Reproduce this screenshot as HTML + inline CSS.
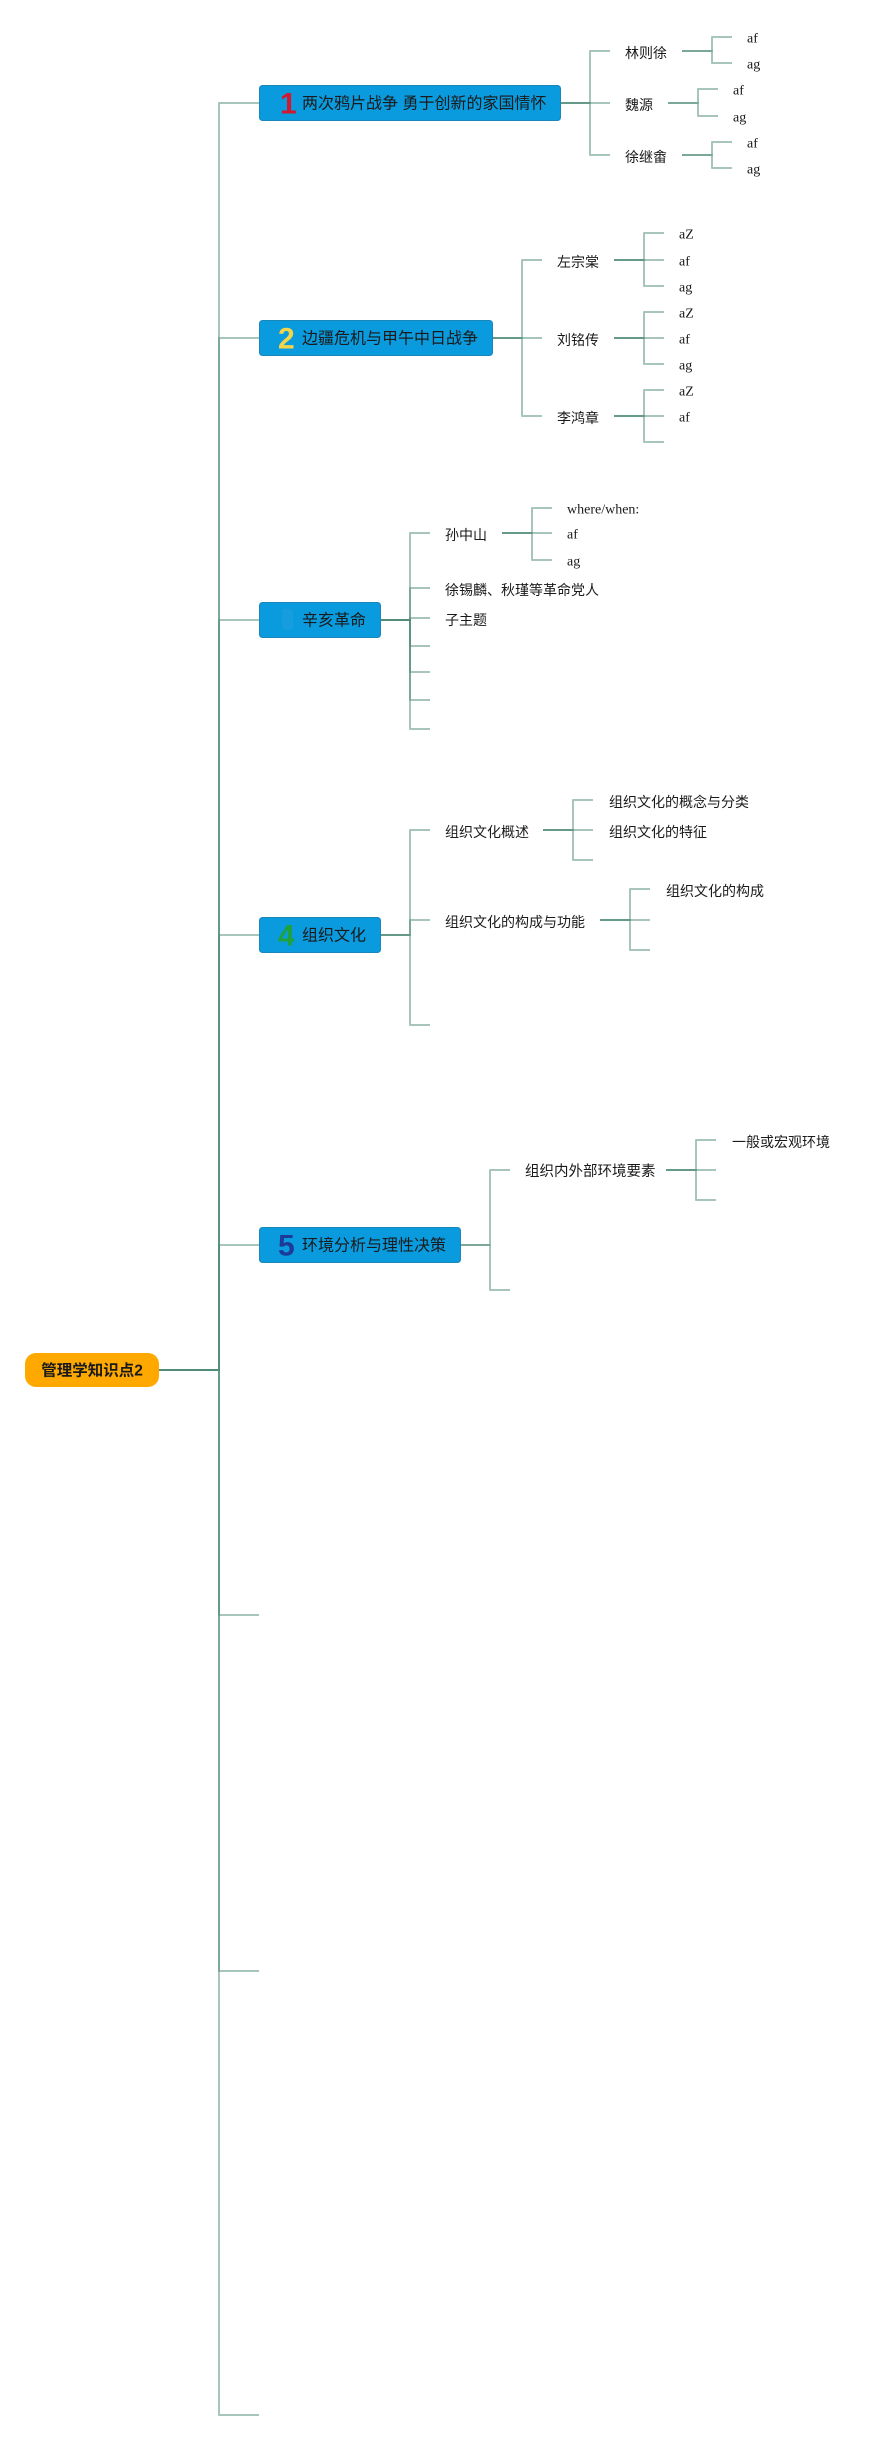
<!DOCTYPE html>
<html>
<head>
<meta charset="utf-8">
<style>
html,body{margin:0;padding:0;background:#fff;}
svg{display:block;}
.c{fill:none;stroke:rgb(80,140,120);stroke-opacity:.5;stroke-width:2;stroke-linejoin:round;}
.t{font-family:"Liberation Sans","Noto Sans CJK SC",sans-serif;fill:#1a1a1a;dominant-baseline:central;}
.s{font-family:"Liberation Serif","Noto Serif CJK SC",serif;fill:#1a1a1a;dominant-baseline:central;font-size:14px;}
.box{fill:#0a9bde;stroke:#1b86b8;stroke-width:1;}
.num{font-family:"Liberation Sans",sans-serif;font-weight:bold;font-size:30px;dominant-baseline:central;}
</style>
</head>
<body>
<svg width="889" height="2440" viewBox="0 0 889 2440" xmlns="http://www.w3.org/2000/svg">
<!-- trunk -->
<path class="c" d="M159 1370 H219 V103 H259"/>
<path class="c" d="M159 1370 H219 V338 H259"/>
<path class="c" d="M159 1370 H219 V620 H259"/>
<path class="c" d="M159 1370 H219 V935 H259"/>
<path class="c" d="M159 1370 H219 V1245 H259"/>
<path class="c" d="M159 1370 H219 V1615 H259"/>
<path class="c" d="M159 1370 H219 V1971 H259"/>
<path class="c" d="M159 1370 H219 V2415 H259"/>

<!-- box1 children -->
<path class="c" d="M560 103 H590 V51 H610"/>
<path class="c" d="M560 103 H590 V103 H610"/>
<path class="c" d="M560 103 H590 V155 H610"/>
<path class="c" d="M682 51 H712 V37 H732"/>
<path class="c" d="M682 51 H712 V63 H732"/>
<path class="c" d="M668 103 H698 V89 H718"/>
<path class="c" d="M668 103 H698 V116 H718"/>
<path class="c" d="M682 155 H712 V142 H732"/>
<path class="c" d="M682 155 H712 V168 H732"/>

<!-- box2 children -->
<path class="c" d="M492 338 H522 V260 H542"/>
<path class="c" d="M492 338 H522 V338 H542"/>
<path class="c" d="M492 338 H522 V416 H542"/>
<path class="c" d="M614 260 H644 V233 H664"/>
<path class="c" d="M614 260 H644 V260 H664"/>
<path class="c" d="M614 260 H644 V286 H664"/>
<path class="c" d="M614 338 H644 V312 H664"/>
<path class="c" d="M614 338 H644 V338 H664"/>
<path class="c" d="M614 338 H644 V364 H664"/>
<path class="c" d="M614 416 H644 V390 H664"/>
<path class="c" d="M614 416 H644 V416 H664"/>
<path class="c" d="M614 416 H644 V442 H664"/>

<!-- box3 children -->
<path class="c" d="M380 620 H410 V533 H430"/>
<path class="c" d="M380 620 H410 V588 H430"/>
<path class="c" d="M380 620 H410 V618 H430"/>
<path class="c" d="M380 620 H410 V646 H430"/>
<path class="c" d="M380 620 H410 V672 H430"/>
<path class="c" d="M380 620 H410 V700 H430"/>
<path class="c" d="M380 620 H410 V729 H430"/>
<path class="c" d="M502 533 H532 V508 H552"/>
<path class="c" d="M502 533 H532 V533 H552"/>
<path class="c" d="M502 533 H532 V560 H552"/>

<!-- box4 children -->
<path class="c" d="M380 935 H410 V830 H430"/>
<path class="c" d="M380 935 H410 V920 H430"/>
<path class="c" d="M380 935 H410 V1025 H430"/>
<path class="c" d="M543 830 H573 V800 H593"/>
<path class="c" d="M543 830 H573 V830 H593"/>
<path class="c" d="M543 830 H573 V860 H593"/>
<path class="c" d="M600 920 H630 V889 H650"/>
<path class="c" d="M600 920 H630 V920 H650"/>
<path class="c" d="M600 920 H630 V950 H650"/>

<!-- box5 children -->
<path class="c" d="M460 1245 H490 V1170 H510"/>
<path class="c" d="M460 1245 H490 V1290 H510"/>
<path class="c" d="M666 1170 H696 V1140 H716"/>
<path class="c" d="M666 1170 H696 V1170 H716"/>
<path class="c" d="M666 1170 H696 V1200 H716"/>

<!-- root -->
<rect x="25" y="1353" width="134" height="34" rx="11" ry="11" fill="#fea800"/>
<text class="t" x="92" y="1371" text-anchor="middle" font-size="15.5" font-weight="bold" fill="#111">管理学知识点2</text>

<!-- main boxes -->
<rect class="box" x="259.5" y="85.5" width="301" height="35" rx="3"/>
<text class="num" x="280" y="104" fill="#d2182e">1</text>
<text class="t" x="302" y="104" font-size="16">两次鸦片战争 勇于创新的家国情怀</text>

<rect class="box" x="259.5" y="320.5" width="233" height="35" rx="3"/>
<text class="num" x="278" y="339" fill="#f2d54a">2</text>
<text class="t" x="302" y="339" font-size="16">边疆危机与甲午中日战争</text>

<rect class="box" x="259.5" y="602.5" width="121" height="35" rx="3"/>
<rect x="282" y="609" width="11" height="21" rx="3" fill="#159ddd"/>
<text class="t" x="302" y="621" font-size="16">辛亥革命</text>

<rect class="box" x="259.5" y="917.5" width="121" height="35" rx="3"/>
<text class="num" x="278" y="936" fill="#1fa23a">4</text>
<text class="t" x="302" y="936" font-size="16">组织文化</text>

<rect class="box" x="259.5" y="1227.5" width="201" height="35" rx="3"/>
<text class="num" x="278" y="1246" fill="#1d3a98">5</text>
<text class="t" x="302" y="1246" font-size="16">环境分析与理性决策</text>

<!-- level1 texts -->
<text class="t" x="625" y="53" font-size="14">林则徐</text>
<text class="t" x="625" y="105" font-size="14">魏源</text>
<text class="t" x="625" y="157" font-size="14">徐继畬</text>

<text class="t" x="557" y="262" font-size="14">左宗棠</text>
<text class="t" x="557" y="340" font-size="14">刘铭传</text>
<text class="t" x="557" y="418" font-size="14">李鸿章</text>

<text class="t" x="445" y="535" font-size="14">孙中山</text>
<text class="t" x="445" y="590" font-size="14">徐锡麟、秋瑾等革命党人</text>
<text class="t" x="445" y="620" font-size="14">子主题</text>

<text class="t" x="445" y="832" font-size="14">组织文化概述</text>
<text class="t" x="445" y="922" font-size="14">组织文化的构成与功能</text>

<text class="t" x="525" y="1172" font-size="14.5">组织内外部环境要素</text>

<!-- leaves -->
<text class="s" x="747" y="39">af</text>
<text class="s" x="747" y="65">ag</text>
<text class="s" x="733" y="91">af</text>
<text class="s" x="733" y="118">ag</text>
<text class="s" x="747" y="144">af</text>
<text class="s" x="747" y="170">ag</text>

<text class="s" x="679" y="235">aZ</text>
<text class="s" x="679" y="262">af</text>
<text class="s" x="679" y="288">ag</text>
<text class="s" x="679" y="314">aZ</text>
<text class="s" x="679" y="340">af</text>
<text class="s" x="679" y="366">ag</text>
<text class="s" x="679" y="392">aZ</text>
<text class="s" x="679" y="418">af</text>

<text class="s" x="567" y="510">where/when:</text>
<text class="s" x="567" y="535">af</text>
<text class="s" x="567" y="562">ag</text>

<text class="t" x="609" y="802" font-size="14">组织文化的概念与分类</text>
<text class="t" x="609" y="832" font-size="14">组织文化的特征</text>
<text class="t" x="666" y="891" font-size="14">组织文化的构成</text>

<text class="t" x="732" y="1142" font-size="14">一般或宏观环境</text>
</svg>
</body>
</html>
